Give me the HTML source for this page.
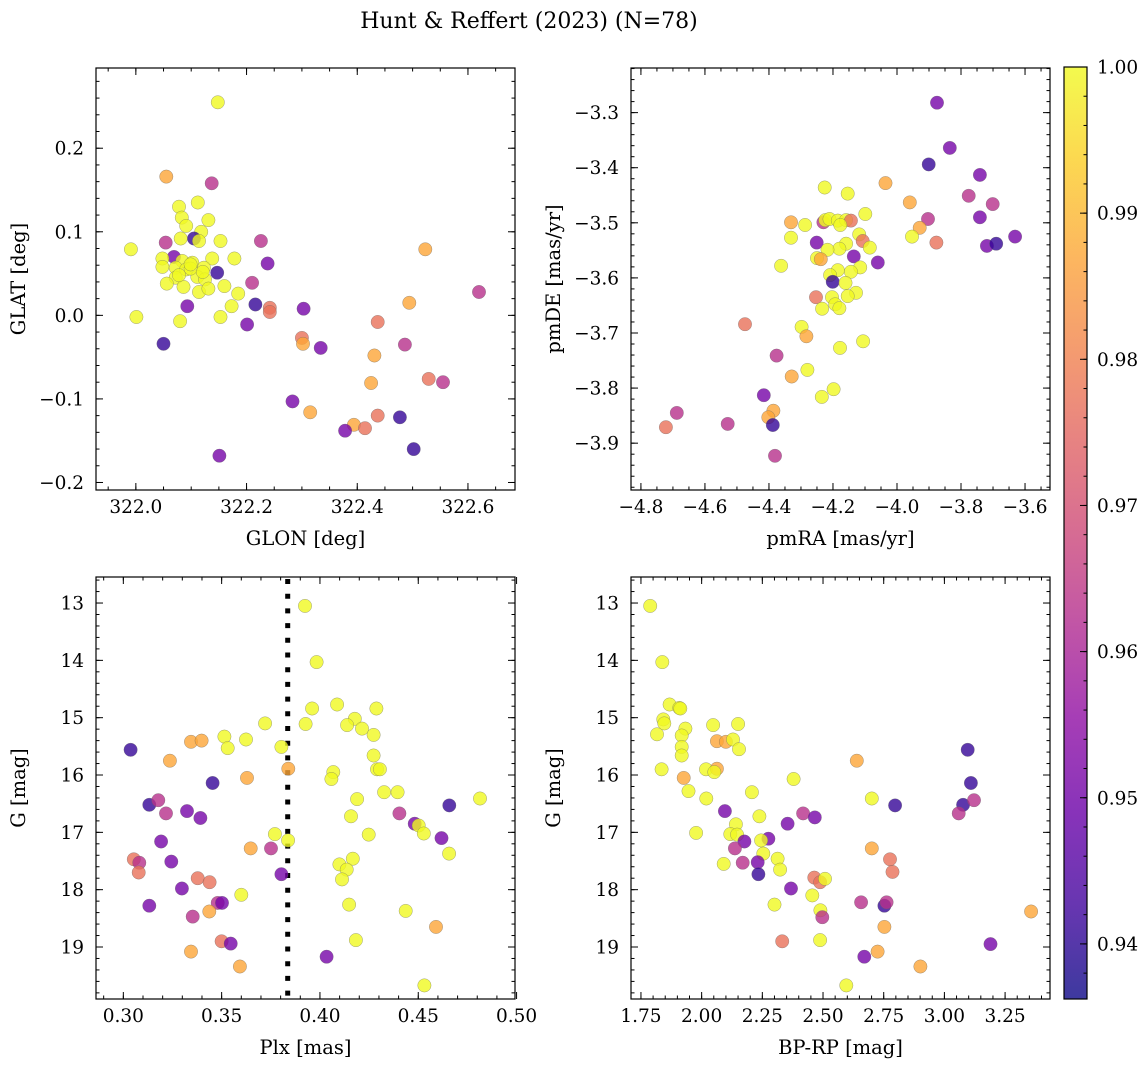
<!DOCTYPE html>
<html><head><meta charset="utf-8">
<style>
html,body{margin:0;padding:0;background:#fff;}
svg{display:block;font-family:"DejaVu Serif","Liberation Serif",serif;}
</style></head>
<body>
<svg id="chart" width="1148" height="1067" viewBox="0 0 1148 1067" xmlns="http://www.w3.org/2000/svg">
<rect width="1148" height="1067" fill="#fff"/>
<text x="529" y="28" font-size="22" text-anchor="middle">Hunt &amp; Reffert (2023) (N=78)</text>
</svg>
<script>
// Colour key: Y=1.0 O=0.987 S=0.977 M=0.963 P=0.951 D=0.941
const Y=1.0,O=0.987,S=0.977,M=0.963,P=0.951,D=0.941;
// ---- Panel 1: GLON vs GLAT ----
const glon=[322.148,322.055,322.137,322.078,322.112,322.083,322.131,322.091,322.118,322.105,322.081,322.114,322.153,322.054,321.991,322.226,322.523,322.069,322.048,322.084,322.102,322.138,322.178,322.238,322.048,322.072,322.091,322.123,322.147,322.072,322.111,322.125,322.056,322.086,322.160,322.210,322.114,322.131,322.185,322.620,322.093,322.216,322.173,322.242,322.242,322.494,322.303,322.001,322.080,322.153,322.201,322.437,322.300,322.302,322.334,322.486,322.050,322.431,322.425,322.529,322.555,322.283,322.315,322.437,322.477,322.394,322.378,322.414,322.502,322.151,322.099,322.078,322.121,322.099];
const glat=[0.255,0.166,0.158,0.130,0.135,0.117,0.114,0.107,0.100,0.092,0.092,0.089,0.089,0.087,0.079,0.089,0.079,0.070,0.068,0.065,0.063,0.068,0.068,0.062,0.058,0.057,0.055,0.057,0.051,0.045,0.046,0.043,0.038,0.034,0.035,0.039,0.028,0.032,0.026,0.028,0.011,0.013,0.011,0.009,0.004,0.015,0.008,-0.002,-0.007,-0.002,-0.011,-0.008,-0.027,-0.034,-0.039,-0.035,-0.034,-0.048,-0.081,-0.076,-0.080,-0.103,-0.116,-0.120,-0.122,-0.131,-0.138,-0.135,-0.160,-0.168,0.056,0.048,0.052,0.061];
const probA=[Y,O,M,Y,Y,Y,Y,Y,Y,D,Y,Y,Y,M,Y,M,O,P,Y,Y,Y,Y,Y,P,Y,Y,Y,Y,D,Y,Y,Y,Y,Y,Y,M,Y,Y,Y,M,P,D,Y,S,S,O,P,Y,Y,Y,P,S,S,O,P,M,D,O,O,S,M,P,O,S,D,O,P,S,D,P,Y,Y,Y,Y];
// ---- Panel 2: pmRA vs pmDE ----
const pmra=[-3.875,-3.835,-3.901,-3.741,-4.036,-4.226,-4.154,-3.776,-3.701,-3.960,-3.741,-3.903,-4.099,-4.331,-4.287,-4.230,-4.224,-4.211,-4.185,-4.159,-4.144,-4.177,-3.929,-3.953,-3.631,-3.877,-3.719,-3.690,-4.331,-4.251,-4.118,-4.107,-4.085,-4.159,-4.180,-4.217,-4.135,-4.250,-4.238,-4.060,-4.362,-4.115,-4.185,-4.144,-4.209,-4.201,-4.161,-4.128,-4.154,-4.253,-4.203,-4.193,-4.180,-4.234,-4.475,-4.298,-4.283,-4.178,-4.106,-4.376,-4.280,-4.329,-4.198,-4.235,-4.416,-4.688,-4.386,-4.402,-4.722,-4.529,-4.388,-4.381];
const pmde=[-3.282,-3.364,-3.394,-3.413,-3.428,-3.436,-3.447,-3.451,-3.466,-3.463,-3.490,-3.493,-3.484,-3.499,-3.504,-3.499,-3.495,-3.493,-3.496,-3.495,-3.496,-3.504,-3.509,-3.525,-3.525,-3.536,-3.542,-3.538,-3.527,-3.536,-3.521,-3.533,-3.545,-3.538,-3.547,-3.549,-3.561,-3.564,-3.566,-3.572,-3.578,-3.581,-3.586,-3.589,-3.595,-3.607,-3.609,-3.627,-3.633,-3.635,-3.635,-3.648,-3.655,-3.656,-3.684,-3.689,-3.706,-3.727,-3.715,-3.741,-3.767,-3.779,-3.802,-3.816,-3.813,-3.845,-3.841,-3.853,-3.871,-3.865,-3.867,-3.923];
const probB=[P,P,D,P,O,Y,Y,M,M,O,P,M,Y,O,Y,M,Y,Y,Y,Y,S,Y,O,Y,P,S,P,D,Y,P,Y,S,Y,Y,Y,Y,P,Y,O,P,Y,Y,Y,Y,Y,D,Y,Y,Y,S,Y,Y,Y,Y,S,Y,O,Y,Y,M,Y,O,Y,Y,P,M,O,O,S,M,D,M];
// ---- Panel 3: Plx vs G ----
const plx=[0.3924,0.3983,0.3960,0.4087,0.4287,0.4177,0.4138,0.4214,0.4273,0.3927,0.3721,0.3514,0.3531,0.3624,0.3804,0.3344,0.3398,0.3037,0.3237,0.4273,0.4290,0.4305,0.3839,0.3629,0.4068,0.4058,0.3454,0.4326,0.4395,0.4189,0.4814,0.4658,0.3132,0.3178,0.3217,0.3324,0.3392,0.4158,0.4404,0.4482,0.4502,0.4528,0.4618,0.4248,0.3771,0.3838,0.3192,0.3648,0.3751,0.4657,0.3053,0.3081,0.3078,0.3244,0.4167,0.4099,0.4136,0.4112,0.3804,0.3378,0.3439,0.3298,0.3600,0.4148,0.4436,0.3132,0.3480,0.3502,0.3437,0.3353,0.4590,0.4183,0.3500,0.3546,0.3344,0.4034,0.3593,0.4531];
const gmagC=[13.05,14.03,14.84,14.77,14.84,15.02,15.13,15.19,15.30,15.11,15.10,15.33,15.53,15.38,15.51,15.42,15.40,15.56,15.75,15.66,15.90,15.90,15.89,16.05,15.95,16.07,16.14,16.30,16.30,16.42,16.41,16.53,16.52,16.44,16.67,16.63,16.75,16.72,16.67,16.85,16.88,17.02,17.10,17.04,17.03,17.14,17.16,17.28,17.28,17.37,17.47,17.53,17.70,17.51,17.46,17.56,17.65,17.82,17.73,17.80,17.87,17.98,18.09,18.26,18.37,18.28,18.23,18.23,18.38,18.47,18.65,18.88,18.90,18.94,19.08,19.17,19.34,19.67];
const probC=[Y,Y,Y,Y,Y,Y,Y,Y,Y,Y,Y,Y,Y,Y,Y,O,O,D,O,Y,Y,Y,O,O,Y,Y,D,Y,Y,Y,Y,D,D,M,M,P,P,Y,M,P,Y,Y,P,Y,Y,Y,P,O,M,Y,S,M,S,P,Y,Y,Y,Y,P,S,S,P,Y,Y,Y,P,M,P,O,M,O,Y,S,P,O,P,O,Y];
const plxCut=[0.3836];
// ---- Panel 4: BP-RP vs G ----
const bprp=[1.788,1.838,1.868,1.908,1.912,1.842,1.846,1.933,1.816,1.918,1.918,1.918,2.047,2.150,2.063,2.100,2.129,2.154,1.835,2.018,2.063,2.052,1.926,2.379,2.639,3.096,1.946,2.207,2.019,2.701,3.109,2.797,3.077,3.122,3.059,2.096,2.238,2.418,2.466,2.354,2.141,1.977,2.118,2.146,2.176,2.275,2.245,2.137,2.254,2.313,2.701,2.776,2.786,2.091,2.169,2.231,2.323,2.234,2.464,2.488,2.508,2.368,2.456,2.300,2.657,2.753,2.762,2.489,2.497,3.357,2.753,2.332,2.488,3.190,2.725,2.670,2.901,2.596];
const gmagD=[13.05,14.03,14.77,14.83,14.84,15.03,15.10,15.19,15.29,15.31,15.51,15.66,15.13,15.11,15.41,15.42,15.38,15.55,15.90,15.90,15.89,15.95,16.05,16.07,15.75,15.56,16.28,16.30,16.41,16.41,16.14,16.53,16.52,16.44,16.67,16.63,16.72,16.67,16.74,16.85,16.86,17.01,17.03,17.04,17.16,17.11,17.14,17.28,17.37,17.46,17.28,17.47,17.69,17.55,17.53,17.52,17.65,17.73,17.79,17.87,17.81,17.98,18.10,18.26,18.22,18.28,18.22,18.36,18.48,18.38,18.65,18.90,18.88,18.95,19.08,19.17,19.34,19.67];
const probD=[Y,Y,Y,Y,Y,Y,Y,Y,Y,Y,Y,Y,Y,Y,O,O,Y,Y,Y,Y,O,Y,O,Y,O,D,Y,Y,Y,Y,D,D,D,M,M,P,Y,M,P,P,Y,Y,Y,Y,P,P,Y,M,Y,Y,O,S,S,Y,M,P,Y,D,S,S,Y,P,Y,Y,M,D,M,Y,M,O,O,S,Y,P,O,P,O,Y];
// tick labels
const tlXTicks=[322.0,322.2,322.4,322.6], tlYTicks=[-0.2,-0.1,0.0,0.1,0.2];
const trXTicks=[-4.8,-4.6,-4.4,-4.2,-4.0,-3.8,-3.6], trYTicks=[-3.9,-3.8,-3.7,-3.6,-3.5,-3.4,-3.3];
const blXTicks=[0.30,0.35,0.40,0.45,0.50], gTicks=[13,14,15,16,17,18,19];
const brXTicks=[1.75,2.00,2.25,2.50,2.75,3.00,3.25];
const cbTicks=[0.94,0.95,0.96,0.97,0.98,0.99,1.00];
const cMin=0.93623,cMax=1.0;

const NS="http://www.w3.org/2000/svg";
const svg=document.getElementById('chart');
function mk(tag,attrs,parent){const e=document.createElementNS(NS,tag);for(const k in attrs)e.setAttribute(k,attrs[k]);(parent||svg).appendChild(e);return e;}
const stops=["#0d0887","#41049d","#6a00a8","#8f0da4","#b12a90","#cc4778","#e16462","#f2844b","#fca636","#fcce25","#f0f921"];
function hex(h){return[parseInt(h.substr(1,2),16),parseInt(h.substr(3,2),16),parseInt(h.substr(5,2),16)];}
function plasma(t){t=Math.max(0,Math.min(1,t));const f=t*10,i=Math.min(9,Math.floor(f)),u=f-i;const a=hex(stops[i]),b=hex(stops[i+1]);return "rgb("+a.map((v,k)=>Math.round(v+(b[k]-v)*u)).join(",")+")";}
function cmap(v){return plasma((v-cMin)/(cMax-cMin));}
function fmt(v,d){return v.toFixed(d).replace("-","\u2212");}

function panel(o){
  const g=mk('g',{});
  
  
  const sx=v=>o.L+(v-o.x0)/(o.x1-o.x0)*o.W;
  const sy=v=>o.inv? o.T+(v-o.y0)/(o.y1-o.y0)*o.H : o.T+o.H-(v-o.y0)/(o.y1-o.y0)*o.H;
  if(o.vline){for(const v of o.vline){const l=mk('line',{x1:sx(v),x2:sx(v),y1:o.T+2,y2:o.T+o.H,stroke:'#000','stroke-width':5,'stroke-dasharray':'5 9.7'},g);
    
    }}
  const pg=mk('g',{},g);
  
  
  for(let i=0;i<o.xs.length;i++){
    const c=mk('circle',{cx:sx(o.xs[i]).toFixed(1),cy:sy(o.ys[i]).toFixed(1),r:6.7,fill:cmap(o.cs[i]),'fill-opacity':0.8,stroke:'#666','stroke-opacity':0.6,'stroke-width':0.5},pg);
    
    
  }
  const tk=mk('g',{stroke:'#000','stroke-width':1},g);
  function minorList(a,b,step){const r=[];const s=Math.ceil(a/step-1e-6);for(let k=s;k*step<=b+1e-9;k++)r.push(k*step);return r;}
  for(const v of minorList(o.x0,o.x1,o.xm)){const x=sx(v);mk('line',{x1:x,x2:x,y1:o.T+o.H,y2:o.T+o.H-3.5},tk);mk('line',{x1:x,x2:x,y1:o.T,y2:o.T+3.5},tk);}
  for(const v of minorList(Math.min(o.y0,o.y1),Math.max(o.y0,o.y1),o.ym)){const y=sy(v);mk('line',{x1:o.L,x2:o.L+3.5,y1:y,y2:y},tk);mk('line',{x1:o.L+o.W,x2:o.L+o.W-3.5,y1:y,y2:y},tk);}
  for(const v of o.xt){const x=sx(v);mk('line',{x1:x,x2:x,y1:o.T+o.H,y2:o.T+o.H-7},tk);mk('line',{x1:x,x2:x,y1:o.T,y2:o.T+7},tk);
    const t=mk('text',{x:x,y:o.T+o.H+23,'font-size':18.5,'text-anchor':'middle'},g);t.textContent=fmt(v,o.xd);
    
    }
  for(const v of o.yt){const y=sy(v);mk('line',{x1:o.L,x2:o.L+7,y1:y,y2:y},tk);mk('line',{x1:o.L+o.W,x2:o.L+o.W-7,y1:y,y2:y},tk);
    const t=mk('text',{x:o.L-12,y:y+6.5,'font-size':18.5,'text-anchor':'end'},g);t.textContent=fmt(v,o.yd);
    
    }
  const fr=mk('rect',{x:o.L,y:o.T,width:o.W,height:o.H,fill:'none',stroke:'#000','stroke-width':1.2},g);
  
  
  const xl=mk('text',{x:o.L+o.W/2,y:o.T+o.H+55,'font-size':19.5,'text-anchor':'middle'},g);xl.textContent=o.xlab;
  
  
  const yx=o.L-(o.ylabOff), yy=o.T+o.H/2;
  const yl=mk('text',{x:yx,y:yy,'font-size':19.5,'text-anchor':'middle',transform:`rotate(-90 ${yx} ${yy})`},g);yl.textContent=o.ylab;
  
  
}
panel({name:'glon-glat-panel',L:96,T:68,W:419,H:422,x0:321.928,x1:322.685,y0:-0.209,y1:0.296,inv:false,xs:glon,ys:glat,cs:probA,xt:tlXTicks,yt:tlYTicks,xm:0.05,ym:0.02,xd:1,yd:1,xlab:'GLON [deg]',ylab:'GLAT [deg]',ylabOff:71});
panel({name:'pm-panel',L:631,T:68,W:419,H:422,x0:-4.831,x1:-3.522,y0:-3.985,y1:-3.219,inv:false,xs:pmra,ys:pmde,cs:probB,xt:trXTicks,yt:trYTicks,xm:0.05,ym:0.02,xd:1,yd:1,xlab:'pmRA [mas/yr]',ylab:'pmDE [mas/yr]',ylabOff:71});
panel({name:'plx-g-panel',L:96,T:577,W:419,H:422,x0:0.2861,x1:0.4992,y0:12.546,y1:19.907,inv:true,xs:plx,ys:gmagC,cs:probC,xt:blXTicks,yt:gTicks,xm:0.01,ym:0.2,xd:2,yd:0,xlab:'Plx [mas]',ylab:'G [mag]',ylabOff:71,vline:plxCut});
panel({name:'cmd-panel',L:631,T:577,W:419,H:422,x0:1.709,x1:3.435,y0:12.546,y1:19.907,inv:true,xs:bprp,ys:gmagD,cs:probD,xt:brXTicks,yt:gTicks,xm:0.05,ym:0.2,xd:2,yd:0,xlab:'BP-RP [mag]',ylab:'G [mag]',ylabOff:71});

(function(){
  const L=1064,T=67,W=23,H=932;
  const g=mk('g',{});
  
  
  const defs=mk('defs',{},g);
  const lg=mk('linearGradient',{id:'cbg',x1:0,y1:1,x2:0,y2:0},defs);
  for(let i=0;i<=20;i++)mk('stop',{offset:i/20,'stop-color':plasma(i/20),'stop-opacity':0.8},lg);
  mk('rect',{x:L,y:T,width:W,height:H,fill:'url(#cbg)'},g);
  const sy=v=>T+H-(v-cMin)/(cMax-cMin)*H;
  for(let k=Math.ceil(cMin/0.002);k*0.002<=cMax+1e-9;k++){const y=sy(k*0.002);mk('line',{x1:L+W,x2:L+W-3.5,y1:y,y2:y,stroke:'#000'},g);}
  for(const v of cbTicks){const y=sy(v);mk('line',{x1:L+W,x2:L+W-7,y1:y,y2:y,stroke:'#000'},g);
    const t=mk('text',{x:L+W+10,y:y+6.5,'font-size':18.5},g);t.textContent=v.toFixed(2);
    
    }
  mk('rect',{x:L,y:T,width:W,height:H,fill:'none',stroke:'#000','stroke-width':1.2},g);
})();
</script>
</body></html>
